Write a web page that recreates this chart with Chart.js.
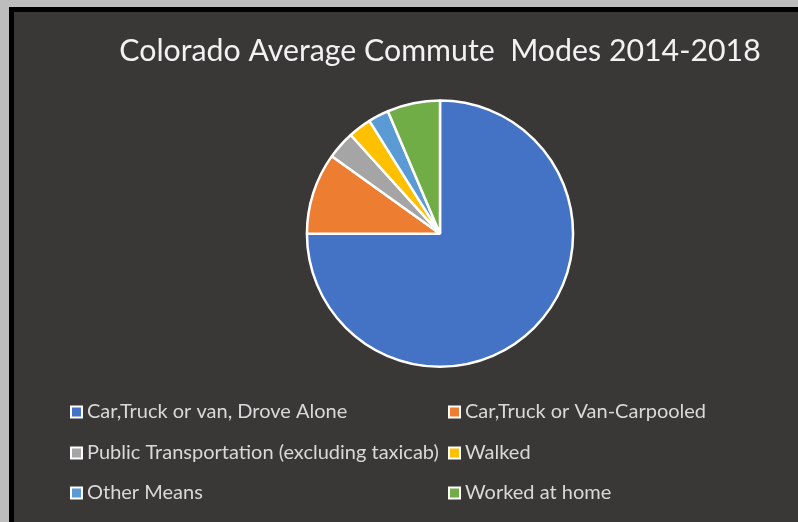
<!DOCTYPE html>
<html>
<head>
<meta charset="utf-8">
<script src="https://cdn.jsdelivr.net/npm/chart.js@4.4.0/dist/chart.umd.min.js"></script>
<style>
  html, body { margin: 0; padding: 0; background: #bdbdbd; width: 798px; height: 522px; overflow: hidden; }
  #frame {
    position: absolute; left: 9px; top: 7px; width: 784px; height: 510px;
    border-left: 5px solid #000; border-top: 5px solid #000;
    background: #3a3836;
  }
  canvas { display: block; }
</style>
</head>
<body>
<div id="frame"><canvas id="myChart" width="784" height="510"></canvas></div>
<script>
// datos (porcentaje de viajes)
const modes = [
    'Car,Truck or van, Drove Alone',
    'Car,Truck or Van-Carpooled',
    'Public Transportation (excluding taxicab)',
    'Walked',
    'Other Means',
    'Worked at home'
];
const shares = [75.0, 9.9, 3.4, 2.8, 2.5, 6.4];
const modeColors = ['#4472c4', '#ed7d31', '#a5a5a5', '#ffc000', '#5b9bd5', '#70ad47'];

// leyenda en rejilla de 2 columnas (como en Excel)
const gridLegend = {
    id: 'gridLegend',
    afterDraw(chart) {
        const ctx = chart.ctx;
        const colX = [56, 434];
        const rowY = [400, 441, 481];
        ctx.save();
        ctx.font = '20px Lato';
        ctx.textBaseline = 'middle';
        chart.data.labels.forEach((label, i) => {
            const x = colX[i % 2];
            const y = rowY[Math.floor(i / 2)];
            ctx.fillStyle = '#ffffff';
            ctx.fillRect(x, y - 6.5, 13, 13);
            ctx.fillStyle = chart.data.datasets[0].backgroundColor[i];
            ctx.fillRect(x + 2, y - 4.5, 9, 9);
            ctx.fillStyle = '#d9d9d9';
            ctx.fillText(label, x + 17, y);
        });
        ctx.restore();
    }
};

const ctx = document.getElementById('myChart').getContext('2d');
new Chart(ctx, {
    type: 'pie',
    data: {
        labels: modes,
        datasets: [{
            data: shares,
            backgroundColor: modeColors,
            borderColor: '#ffffff',
            borderWidth: 2.5
        }]
    },
    options: {
        responsive: false,
        animation: false,
        layout: { padding: { left: 68, right: 0, top: 0, bottom: 154 } },
        plugins: {
            legend: { display: false },
            tooltip: { enabled: false },
            title: {
                display: true,
                text: 'Colorado Average Commute  Modes 2014-2018',
                color: '#f2f2f2',
                font: { family: 'Lato', size: 30.3, weight: 'normal', lineHeight: 1.2 },
                padding: { top: 21, bottom: 30 }
            }
        }
    },
    plugins: [gridLegend]
});
</script>
</body>
</html>
